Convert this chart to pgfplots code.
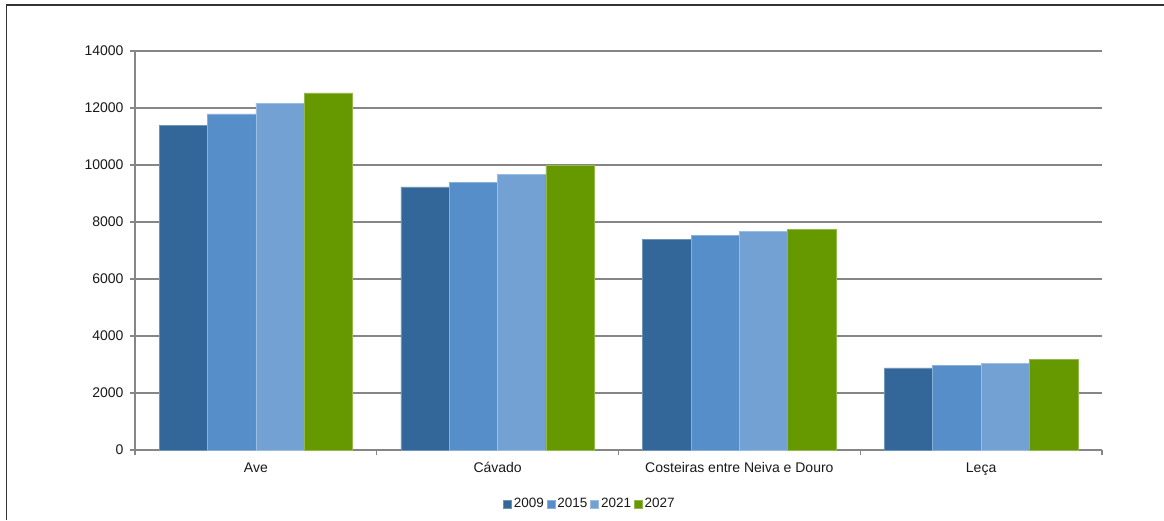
\documentclass[border=0pt]{standalone}
\usepackage{pgfplots}
\pgfplotsset{compat=1.18}
\usepackage{fontspec}
\setmainfont{Liberation Sans}

\definecolor{c2009}{RGB}{51,102,153}
\definecolor{c2015}{RGB}{85,142,201}
\definecolor{c2021}{RGB}{115,161,211}
\definecolor{c2027}{RGB}{102,153,0}
\definecolor{gridgray}{RGB}{134,134,134}

\begin{document}
\begin{tikzpicture}[x=1pt,y=1pt]
\useasboundingbox (-135,-70) rectangle (1029,450);
% outer frame (left and top edges)
\draw[line width=1.6pt,black!80] (-128.5,-70) -- (-128.5,445) -- (1029,445);
\begin{axis}[
  at={(0pt,0pt)}, anchor=south west,
  scale only axis,
  width=967pt, height=399pt,
  ybar=0pt, bar width=48.35pt,
  xmin=-0.5, xmax=3.5,
  ymin=0, ymax=14000,
  ytick={0,2000,...,14000},
  xtick={0,1,2,3},
  xticklabels={Ave,Cávado,Costeiras entre Neiva e Douro,Leça},
  minor xtick={-0.5,0.5,1.5,2.5,3.5},
  axis x line*=bottom, axis y line*=left,
  axis line style={gridgray, line width=1.1pt, -},
  tick align=outside,
  major tick length=5pt, minor tick length=5pt,
  tick style={gridgray, line width=1.1pt},
  major x tick style={draw=none},
  ymajorgrids,
  major grid style={gridgray, line width=1.1pt},
  scaled y ticks=false,
  /pgf/number format/assume math mode=true,
  yticklabel={\pgfmathprintnumber[fixed,precision=0,1000 sep={}]{\tick}},
  ticklabel style={font=\fontsize{14}{16}\selectfont, text=black!90},
  xticklabel style={yshift=-4pt},
  yticklabel style={xshift=-3pt},
  legend columns=4,
  legend style={draw=none, fill=none, at={(0.4705,-0.135)}, anchor=center,
    font=\fontsize{13.5}{15}\selectfont, text=black!90,
    /tikz/every even column/.append style={column sep=1pt}},
  legend image code/.code={\fill[#1] (0pt,-4pt) rectangle (8pt,4pt);},
]
\addplot[fill=c2009, draw=c2009!70!white, line width=0.6pt] coordinates {(0,11400) (1,9230) (2,7400) (3,2880)};
\addplot[fill=c2015, draw=c2015!70!white, line width=0.6pt] coordinates {(0,11790) (1,9400) (2,7540) (3,2960)};
\addplot[fill=c2021, draw=c2021!70!white, line width=0.6pt] coordinates {(0,12175) (1,9660) (2,7670) (3,3050)};
\addplot[fill=c2027, draw=c2027!70!white, line width=0.6pt] coordinates {(0,12530) (1,9980) (2,7750) (3,3175)};
\legend{2009,2015,2021,2027}
\end{axis}
\end{tikzpicture}
\end{document}
